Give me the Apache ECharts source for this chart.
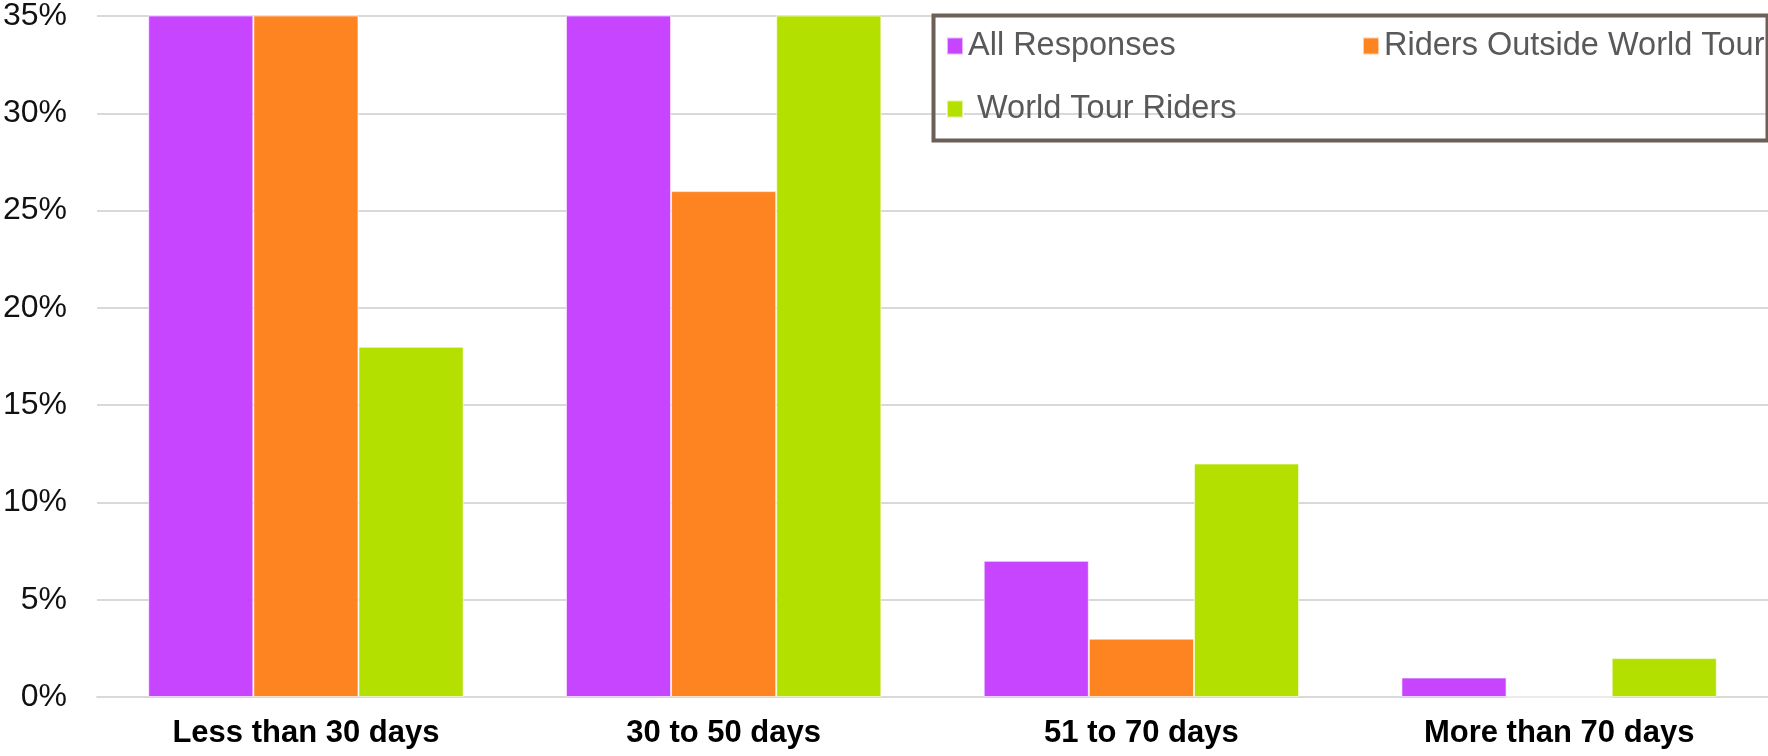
<!DOCTYPE html>
<html>
<head>
<meta charset="utf-8">
<script src="https://cdn.jsdelivr.net/npm/echarts@6/dist/echarts.min.js"></script>
<style>html,body{margin:0;padding:0;background:#fff;}#c{width:1768px;height:756px;}</style>
</head>
<body>
<div id="c"></div>
<script>
const categories = ['Less than 30 days', '30 to 50 days', '51 to 70 days', 'More than 70 days'];
const seriesNames = ['All Responses', 'Riders Outside World Tour', 'World Tour Riders'];
const allResponses = [48, 44, 7, 1];
const ridersOutside = [71, 26, 3, 0];
const worldTourRiders = [18, 68, 12, 2];
const yTicks = { min: 0, max: 35, interval: 5 };
const colors = ['#c845ff', '#fe8321', '#b4e000'];

const chart = echarts.init(document.getElementById('c'), null, { renderer: 'canvas' });
const font = 'Liberation Sans, Arial, sans-serif';
const legendText = { fontFamily: font, fontSize: 32.5, color: '#595959', lineHeight: 34 };
function mkLegend(name, left, top, extra) {
  return Object.assign({
    data: [name], left: left, top: top, orient: 'horizontal',
    itemWidth: 16, itemHeight: 17, icon: 'rect', padding: 0,
    textStyle: Object.assign({}, legendText), selectedMode: false
  }, extra || {});
}
const seriesData = [allResponses, ridersOutside, worldTourRiders];
chart.setOption({
  animation: false,
  color: colors,
  grid: { left: 95, top: 14, width: 1678, height: 683, containLabel: false },
  legend: [
    mkLegend(seriesNames[0], 946, 29),
    mkLegend(seriesNames[1], 1362, 29),
    mkLegend(seriesNames[2], 946, 92, { textStyle: Object.assign({}, legendText, { padding: [0, 0, 0, 9] }) })
  ],
  graphic: [{
    type: 'rect', left: 931, top: 13, z: 10,
    shape: { width: 834, height: 125 },
    style: { fill: 'none', stroke: '#6b5f58', lineWidth: 4 }
  }],
  xAxis: {
    type: 'category', data: categories,
    axisTick: { show: false },
    axisLine: { show: true, lineStyle: { color: '#d9d9d9', width: 2 } },
    axisLabel: { fontFamily: font, fontSize: 31, fontWeight: 'bold', color: '#000', margin: 21 }
  },
  yAxis: {
    type: 'value', min: yTicks.min, max: yTicks.max, interval: yTicks.interval,
    axisLine: { show: false }, axisTick: { show: false },
    splitLine: { lineStyle: { color: '#d9d9d9', width: 2 } },
    axisLabel: { formatter: '{value}%', fontFamily: font, fontSize: 32, color: '#111', margin: 30 }
  },
  series: seriesNames.map((n, i) => ({
    name: n, type: 'bar', data: seriesData[i],
    barGap: '0%', barCategoryGap: '24.5%', clip: true,
    itemStyle: { color: colors[i], borderColor: 'rgba(255,255,255,0.6)', borderWidth: 1 }
  }))
});
</script>
</body>
</html>
